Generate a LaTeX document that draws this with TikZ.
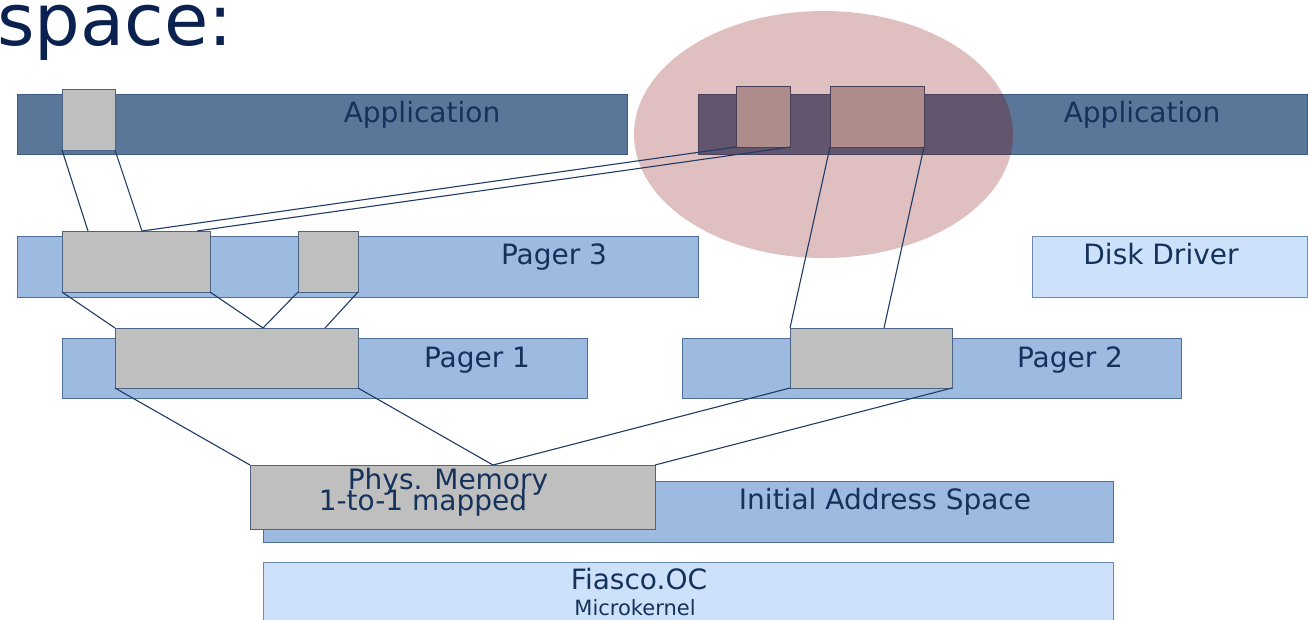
\documentclass[tikz,border=0pt]{standalone}
\usepackage{fontspec}
\setmainfont{DejaVu Sans}
\definecolor{appfill}{HTML}{5A7699}
\definecolor{appdraw}{HTML}{3D5A80}
\definecolor{pagerfill}{HTML}{9DBBE0}
\definecolor{pagerdraw}{HTML}{4F6F98}
\definecolor{lightfill}{HTML}{CDE1FB}
\definecolor{lightdraw}{HTML}{6A8AB2}
\definecolor{grayfill}{HTML}{BFBFBF}
\definecolor{graydraw}{HTML}{4D6384}
\definecolor{txtcol}{HTML}{15325C}
\definecolor{titlecol}{HTML}{0B2250}
\definecolor{conncol}{HTML}{1F3B63}
\definecolor{ellfill}{HTML}{DFBFC0}
\definecolor{appin}{HTML}{62566F}
\definecolor{grayin}{HTML}{AD8C8B}
\definecolor{drawin}{HTML}{4A3F58}
\begin{document}
\begin{tikzpicture}[x=1pt,y=-1pt,
  box/.style={draw, line width=1pt, inner sep=0pt, outer sep=0pt, anchor=north west},
  appbar/.style={box, fill=appfill, draw=appdraw},
  pagerbar/.style={box, fill=pagerfill, draw=pagerdraw},
  lightbar/.style={box, fill=lightfill, draw=lightdraw},
  graybox/.style={box, fill=grayfill, draw=graydraw},
  lbl/.style={anchor=base, text=txtcol, inner sep=0pt, font=\fontsize{28}{30}\selectfont},
  smalllbl/.style={anchor=base, text=txtcol, inner sep=0pt, font=\fontsize{21}{23}\selectfont},
  conn/.style={draw=conncol, line width=1.1pt}]
\useasboundingbox (0,0) rectangle (1308,619);

% title fragment
\node[anchor=base west, inner sep=0pt, text=titlecol, font=\fontsize{72}{80}\selectfont] (title) at (-3,45) {space:};

% row 1
\node[appbar, minimum width=610pt, minimum height=60pt] (appL) at (17,94) {};
\node[graybox, minimum width=53pt, minimum height=61pt] (gT) at (62,89) {};
\fill[ellfill] (823.5,134.5) ellipse [x radius=189.5, y radius=123.5];
\node[appbar, minimum width=609pt, minimum height=60pt] (appR) at (698,94) {};
\node[graybox, minimum width=54pt, minimum height=61pt] (gS) at (736,86) {};
\node[graybox, minimum width=94pt, minimum height=61pt] (gL) at (830,86) {};
\begin{scope}
  \clip (823.5,134.5) ellipse [x radius=189.5, y radius=123.5];
  \filldraw[fill=appin, draw=drawin, line width=1pt] (appR.north west) rectangle (appR.south east);
  \filldraw[fill=grayin, draw=drawin, line width=1pt] (gS.north west) rectangle (gS.south east);
  \filldraw[fill=grayin, draw=drawin, line width=1pt] (gL.north west) rectangle (gL.south east);
\end{scope}

% row 2
\node[pagerbar, minimum width=681pt, minimum height=61pt] (p3) at (17,236) {};
\node[lightbar, minimum width=275pt, minimum height=61pt] (dd) at (1032,236) {};
\node[graybox, minimum width=148pt, minimum height=61pt] (gA) at (62,231) {};
\node[graybox, minimum width=60pt, minimum height=61pt] (gB) at (298,231) {};

% row 3
\node[pagerbar, minimum width=525pt, minimum height=60pt] (p1) at (62,338) {};
\node[pagerbar, minimum width=499pt, minimum height=60pt] (p2) at (682,338) {};
\node[graybox, minimum width=243pt, minimum height=60pt] (gC) at (115,328) {};
\node[graybox, minimum width=162pt, minimum height=60pt] (gD) at (790,328) {};

% row 4, 5
\node[pagerbar, minimum width=850pt, minimum height=61pt] (ias) at (263,481) {};
\node[graybox, minimum width=405pt, minimum height=64pt] (gP) at (250,465) {};
\node[lightbar, minimum width=850pt, minimum height=70pt] (fia) at (263,562) {};

% labels
\node[lbl] (tAppL) at (422,122) {Application};
\node[lbl] (tAppR) at (1142,122) {Application};
\node[lbl] (tP3) at (554,264) {Pager 3};
\node[lbl] (tDD) at (1161,264) {Disk Driver};
\node[lbl] (tP1) at (477,367) {Pager 1};
\node[lbl] (tP2) at (1070,367) {Pager 2};
\node[lbl] (tIAS) at (885,509) {Initial Address Space};
\node[lbl] (tPM1) at (448,489) {Phys. Memory};
\node[lbl] (tPM2) at (423,510) {1-to-1 mapped};
\node[lbl] (tFia) at (639,589) {Fiasco.OC};
\node[smalllbl] (tMk) at (635,615) {Microkernel};

% connectors
\draw[conn] (gT.south west) -- ([xshift=26pt]gA.north west);
\draw[conn] (gT.south east) -- ([xshift=80pt]gA.north west);
\draw[conn] (gS.south west) -- ([xshift=80pt]gA.north west);
\draw[conn] (gS.south east) -- ([xshift=135pt]gA.north west);
\draw[conn] (gA.south west) -- (gC.north west);
\draw[conn] (gA.south east) -- ([xshift=148pt]gC.north west);
\draw[conn] (gB.south west) -- ([xshift=148pt]gC.north west);
\draw[conn] (gB.south east) -- ([xshift=210pt]gC.north west);
\draw[conn] (gL.south west) -- (gD.north west);
\draw[conn] (gL.south east) -- ([xshift=94pt]gD.north west);
\draw[conn] (gC.south west) -- (gP.north west);
\draw[conn] (gC.south east) -- ([xshift=243pt]gP.north west);
\draw[conn] (gD.south west) -- ([xshift=243pt]gP.north west);
\draw[conn] (gD.south east) -- (gP.north east);
\end{tikzpicture}
\end{document}
